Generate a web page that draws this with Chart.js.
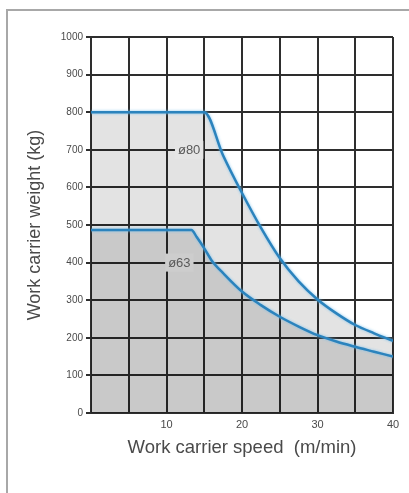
<!DOCTYPE html>
<html lang="en">
<head>
    <meta charset="UTF-8" />
    <title>Work carrier weight vs speed</title>
    <script src="https://cdn.jsdelivr.net/npm/chart.js"></script>
    <style>
        html, body {
            margin: 0;
            padding: 0;
            background: #fff;
        }

        .frame {
            position: absolute;
            left: 6px;
            top: 9px;
            width: 420px;
            height: 500px;
            border-top: 2px solid #a8a8a8;
            border-left: 2px solid #a8a8a8;
        }

        .chart-wrap {
            position: absolute;
            left: 0;
            top: 0;
            width: 409px;
            height: 493px;
        }
    </style>
</head>
<body>
    <div class="frame"></div>
    <div class="chart-wrap">
        <canvas id="loadChart"></canvas>
    </div>

    <script>
        // speed (m/min) vs allowed weight (kg)
        const speedD63 = [0, 13.3, 14, 15, 16, 17.5, 20, 22.5, 25, 27.5, 30, 32.5, 35, 37.5, 40];
        const weightD63 = [487, 487, 468, 438, 405, 372, 323, 287, 256, 230, 207, 190, 176, 163, 150];

        const speedD80 = [0, 15, 17.5, 20, 22.5, 25, 27.5, 30, 32.5, 35, 37.5, 40];
        const weightD80 = [800, 800, 685, 585, 493, 412, 350, 302, 265, 234, 212, 192];

        const seriesLabels = ['ø63', 'ø80'];
        // where the curve names sit (x, y in data units)
        const labelSpots = [[11.7, 400], [13.0, 700]];

        const xTicks = [10, 20, 30, 40];

        const toPoints = (xs, ys) => xs.map((x, i) => ({ x: x, y: ys[i] }));

        const lineBlue = '#2b83bd';
        const textGrey = '#4a4a4a';
        const fontFam = '"Liberation Sans", Arial, sans-serif';

        // soft light-blue halo round the curves, like the scan
        const curveGlow = {
            id: 'curveGlow',
            beforeDatasetDraw(chart) {
                chart.ctx.save();
                chart.ctx.shadowColor = 'rgba(120,190,235,0.9)';
                chart.ctx.shadowBlur = 3;
            },
            afterDatasetDraw(chart) {
                chart.ctx.restore();
            }
        };

        // boxes with the series names sitting on the grid lines
        const curveNames = {
            id: 'curveNames',
            afterDatasetsDraw(chart) {
                const ctx = chart.ctx;
                const xs = chart.scales.x;
                const ys = chart.scales.y;
                ctx.save();
                ctx.font = '13px ' + fontFam;
                ctx.textAlign = 'center';
                ctx.textBaseline = 'middle';
                seriesLabels.forEach((name, i) => {
                    const px = xs.getPixelForValue(labelSpots[i][0]);
                    const py = ys.getPixelForValue(labelSpots[i][1]);
                    const w = ctx.measureText(name).width + 6;
                    ctx.fillStyle = i === 0 ? '#cdcdcd' : '#e5e5e5';
                    ctx.fillRect(px - w / 2, py - 9, w, 18);
                    ctx.fillStyle = '#5a5a5a';
                    ctx.fillText(name, px, py + 1);
                });
                ctx.restore();
            }
        };

        const ctx = document.getElementById('loadChart').getContext('2d');

        new Chart(ctx, {
            type: 'scatter',
            data: {
                datasets: [
                    {
                        label: seriesLabels[0],
                        data: toPoints(speedD63, weightD63),
                        showLine: true,
                        borderColor: lineBlue,
                        borderWidth: 2.5,
                        pointRadius: 0,
                        cubicInterpolationMode: 'monotone',
                        fill: 'origin',
                        backgroundColor: 'rgba(0,0,0,0.21)'
                    },
                    {
                        label: seriesLabels[1],
                        data: toPoints(speedD80, weightD80),
                        showLine: true,
                        borderColor: lineBlue,
                        borderWidth: 2.5,
                        pointRadius: 0,
                        cubicInterpolationMode: 'monotone',
                        fill: '-1',
                        backgroundColor: 'rgba(0,0,0,0.11)'
                    }
                ]
            },
            options: {
                responsive: true,
                maintainAspectRatio: false,
                animation: false,
                layout: {
                    padding: { top: 37, right: 16, bottom: 30, left: 20 }
                },
                plugins: {
                    legend: { display: false },
                    tooltip: { enabled: false }
                },
                scales: {
                    x: {
                        type: 'linear',
                        min: 0,
                        max: 40,
                        afterFit: (s) => { s.height = 50; },
                        grid: {
                            color: '#2e2e2e',
                            lineWidth: 2,
                            drawTicks: false
                        },
                        border: { color: '#2e2e2e', width: 2 },
                        ticks: {
                            stepSize: 5,
                            padding: 5,
                            maxRotation: 0,
                            color: textGrey,
                            font: { size: 11, family: fontFam },
                            callback: (v) => xTicks.includes(v) ? String(v) : ''
                        },
                        title: {
                            display: true,
                            text: 'Work carrier speed  (m/min)',
                            color: textGrey,
                            padding: { top: 4 },
                            font: { size: 18.5, family: fontFam }
                        }
                    },
                    y: {
                        min: 0,
                        max: 1000,
                        afterFit: (s) => { s.width = 71; },
                        grid: {
                            color: '#2e2e2e',
                            lineWidth: 2,
                            tickLength: 5
                        },
                        border: { color: '#2e2e2e', width: 2 },
                        ticks: {
                            stepSize: 100,
                            padding: 3,
                            color: textGrey,
                            font: { size: 10, family: fontFam },
                            callback: (v) => String(v)
                        },
                        title: {
                            display: true,
                            text: 'Work carrier weight (kg)',
                            color: textGrey,
                            padding: { bottom: 10 },
                            font: { size: 18, family: fontFam }
                        }
                    }
                }
            },
            plugins: [curveGlow, curveNames]
        });
    </script>
</body>
</html>
